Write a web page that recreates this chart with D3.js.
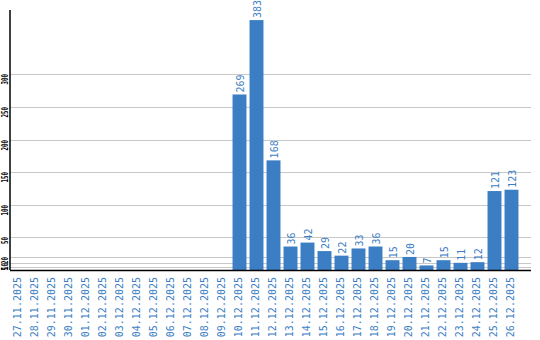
<!DOCTYPE html>
<html lang="en">
<head>
    <meta charset="UTF-8">
    <title>Daily counts</title>
    <script src="https://d3js.org/d3.v7.min.js"></script>
    <style>
        body {
            margin: 0;
            padding: 0;
            background: #fff;
        }
        svg text {
            font-family: "DejaVu Sans Mono", monospace;
        }
    </style>
</head>
<body>
    <svg id="chart" width="540" height="340"></svg>

    <script>
        // dates shown on the x axis
        const dates = [
            "27.11.2025", "28.11.2025", "29.11.2025", "30.11.2025",
            "01.12.2025", "02.12.2025", "03.12.2025", "04.12.2025", "05.12.2025",
            "06.12.2025", "07.12.2025", "08.12.2025", "09.12.2025", "10.12.2025",
            "11.12.2025", "12.12.2025", "13.12.2025", "14.12.2025", "15.12.2025",
            "16.12.2025", "17.12.2025", "18.12.2025", "19.12.2025", "20.12.2025",
            "21.12.2025", "22.12.2025", "23.12.2025", "24.12.2025", "25.12.2025",
            "26.12.2025"
        ];

        // count per day
        const counts = [
            0, 0, 0, 0, 0, 0, 0, 0, 0, 0, 0, 0, 0,
            269, 383, 168, 36, 42, 29, 22, 33, 36, 15, 20, 7, 15, 11, 12, 121, 123
        ];

        // gridline / tick values on the y axis
        const yTicks = [5, 10, 20, 50, 100, 150, 200, 250, 300];

        const blue = "#3b7ec3";
        const data = dates.map((d, i) => ({ date: d, value: counts[i] }));

        const svg = d3.select("#chart");

        const plotLeft = 10, plotRight = 531, plotBottom = 270, plotTop = 10;

        const x = d3.scaleBand()
            .domain(dates)
            .range([plotLeft, 520])
            .paddingInner(0.18)
            .paddingOuter(0.09);

        const y = d3.scaleLinear()
            .domain([0, 400])
            .range([plotBottom, 9]);

        // horizontal grid lines
        svg.append("g")
            .selectAll("line")
            .data(yTicks)
            .join("line")
            .attr("x1", plotLeft)
            .attr("x2", plotRight)
            .attr("y1", d => Math.round(y(d)) + 0.5)
            .attr("y2", d => Math.round(y(d)) + 0.5)
            .attr("stroke", "#c8c8c8")
            .attr("stroke-width", 1);

        // y tick labels, rotated
        svg.append("g")
            .selectAll("text")
            .data(yTicks)
            .join("text")
            .attr("transform", d => `translate(8, ${Math.round(y(d))}) rotate(-90)`)
            .attr("text-anchor", "end")
            .attr("font-size", "9px")
            .attr("font-weight", "bold")
            .attr("textLength", d => String(d).length * 3.5)
            .attr("lengthAdjust", "spacingAndGlyphs")
            .attr("fill", "#000")
            .text(d => d);

        // bars
        svg.append("g")
            .selectAll("rect")
            .data(data.filter(d => d.value > 0))
            .join("rect")
            .attr("x", d => x(d.date))
            .attr("width", x.bandwidth())
            .attr("y", d => y(d.value))
            .attr("height", d => y(0) - y(d.value))
            .attr("fill", blue);

        // value labels above bars
        svg.append("g")
            .selectAll("text")
            .data(data.filter(d => d.value > 0))
            .join("text")
            .attr("transform", d => `translate(${x(d.date) + x.bandwidth() / 2 + 4}, ${y(d.value) - 2}) rotate(-90)`)
            .attr("text-anchor", "start")
            .attr("font-size", "10px")
            .attr("fill", blue)
            .text(d => d.value);

        // x labels, rotated
        svg.append("g")
            .selectAll("text")
            .data(dates)
            .join("text")
            .attr("transform", d => `translate(${x(d) + x.bandwidth() / 2 + 2}, ${plotBottom + 7}) rotate(-90)`)
            .attr("text-anchor", "end")
            .attr("font-size", "10px")
            .attr("fill", blue)
            .text(d => d);

        // axis lines
        svg.append("line")
            .attr("x1", plotLeft).attr("x2", plotLeft)
            .attr("y1", plotTop).attr("y2", plotBottom)
            .attr("stroke", "#000")
            .attr("stroke-width", 1.5);

        svg.append("line")
            .attr("x1", plotLeft).attr("x2", plotRight)
            .attr("y1", plotBottom + 0.5).attr("y2", plotBottom + 0.5)
            .attr("stroke", "#000")
            .attr("stroke-width", 1.5);
    </script>
</body>
</html>
